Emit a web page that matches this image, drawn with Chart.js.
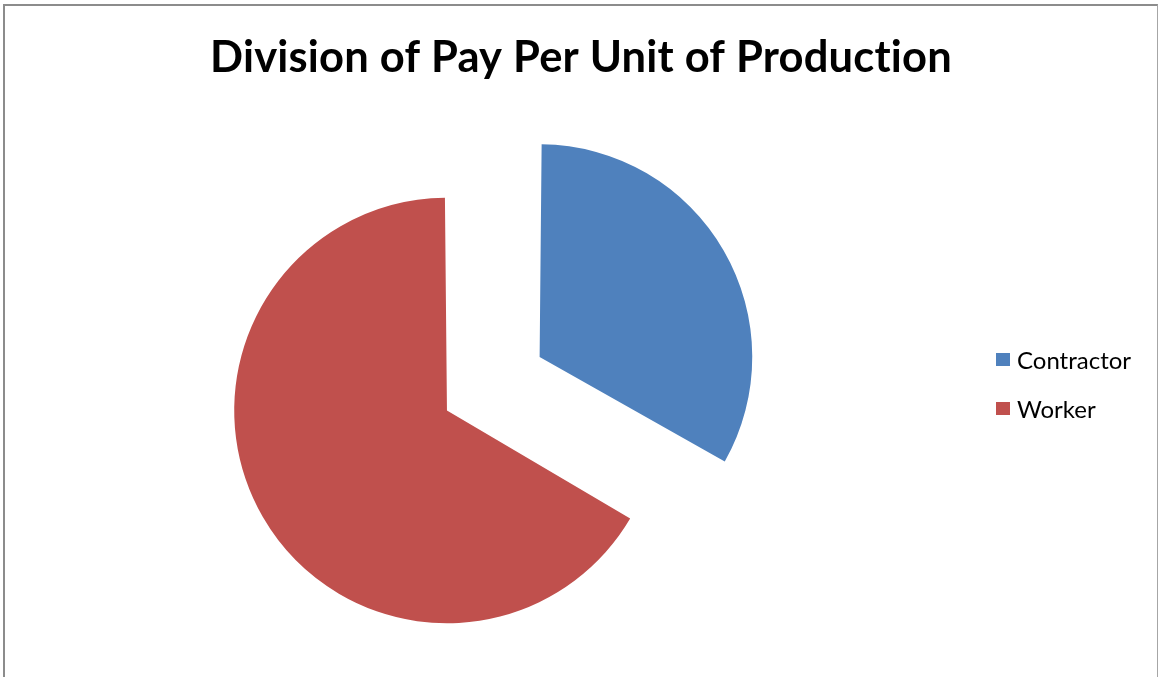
<!DOCTYPE html>
<html lang="en">
<head>
<meta charset="UTF-8">
<title>Division of Pay Per Unit of Production</title>
<script src="https://cdn.jsdelivr.net/npm/chart.js"></script>
<style>
    body {
        margin: 0;
        overflow: hidden;
        background: #fff;
        font-family: Lato, sans-serif;
    }
    .frame {
        position: absolute;
        left: 3px;
        top: 4px;
        width: 1152px;
        height: 700px;
        overflow: hidden;
        border: 2px solid #8c8c8c;
        border-right: 1px solid #a6a6a6;
        border-bottom: none;
    }
    /* canvas runs a little past the left edge so the pie can sit left of the title centre */
    #payChart {
        display: block;
        margin-left: -41px;
    }
    #legend {
        position: absolute;
        left: 996px;
        top: 335px;
        margin: 0;
        padding: 0;
        list-style: none;
    }
    #legend li {
        display: flex;
        align-items: center;
        height: 49px;
        font-size: 24px;
        color: #000;
    }
    #legend .swatch {
        width: 14px;
        height: 13px;
        margin-right: 7px;
    }
</style>
</head>
<body>
    <div class="frame">
        <canvas id="payChart" width="1193" height="700"></canvas>
    </div>
    <ul id="legend"></ul>

<script>
    const categories = ['Contractor', 'Worker'];
    const payShare = [1, 2];

    // letter spacing keeps Lato from joining "ti" into a ligature
    const noLigatures = {
        id: 'noLigatures',
        beforeDraw(chart) {
            chart.ctx.letterSpacing = '0.2px';
        }
    };

    const ctx = document.getElementById('payChart').getContext('2d');

    const payChart = new Chart(ctx, {
        type: 'pie',
        data: {
            labels: categories,
            datasets: [{
                data: payShare,
                backgroundColor: ['#4F81BD', '#C0504D'],
                borderWidth: 0,
                radius: 200,
                // both slices pulled out from the centre
                offset: [377, 51],
                hoverOffset: 0
            }]
        },
        options: {
            responsive: false,
            animation: false,
            layout: {
                padding: { left: 0, right: 205, top: 0, bottom: 0 }
            },
            plugins: {
                legend: { display: false },
                tooltip: { enabled: false },
                title: {
                    display: true,
                    text: 'Division of Pay Per Unit of Production',
                    align: 'end',
                    color: '#000',
                    font: { family: 'Lato', weight: 'bold', size: 43.5, lineHeight: 1.2 },
                    padding: { top: 26, bottom: 18 }
                }
            }
        },
        plugins: [noLigatures]
    });

    // legend built from the chart's own label items
    const legendList = document.getElementById('legend');
    payChart.options.plugins.legend.labels.generateLabels(payChart).forEach(item => {
        const li = document.createElement('li');
        const box = document.createElement('span');
        box.className = 'swatch';
        box.style.background = item.fillStyle;
        li.appendChild(box);
        li.appendChild(document.createTextNode(item.text));
        legendList.appendChild(li);
    });
</script>
</body>
</html>
